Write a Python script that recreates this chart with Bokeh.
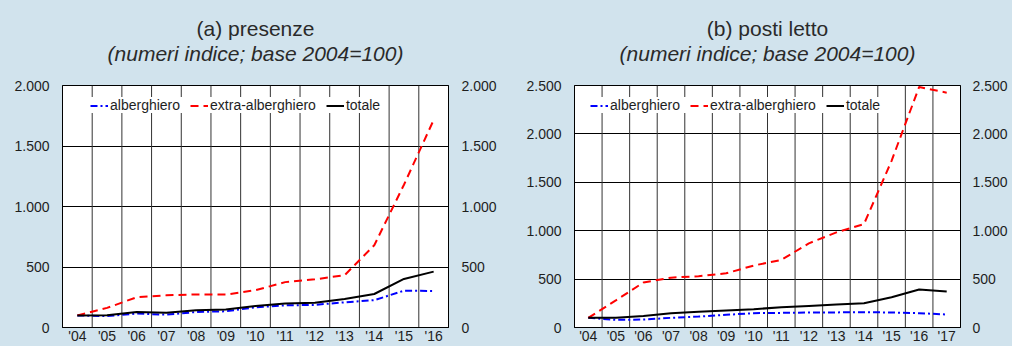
from bokeh.plotting import figure
from bokeh.models import (Range1d, FixedTicker, LinearAxis, Legend, LegendItem, Title, Span)
from bokeh.layouts import row
from bokeh.embed import file_html
from bokeh.resources import INLINE

# ---------------- data ----------------
years_a = [2004, 2005, 2006, 2007, 2008, 2009, 2010, 2011, 2012, 2013, 2014, 2015, 2016]
pres_alberghiero = [100, 94, 115, 106, 128, 134, 167, 183, 187, 208, 226, 304, 302]
pres_extra = [100, 162, 250, 266, 273, 272, 308, 375, 398, 432, 680, 1180, 1715]
pres_totale = [100, 101, 128, 121, 143, 149, 177, 199, 204, 236, 277, 401, 462]

years_b = [2004, 2005, 2006, 2007, 2008, 2009, 2010, 2011, 2012, 2013, 2014, 2015, 2016, 2017]
posti_alberghiero = [100, 79, 82, 100, 113, 131, 148, 151, 155, 156, 158, 155, 148, 134]
posti_extra = [100, 280, 465, 515, 530, 560, 640, 698, 869, 983, 1069, 1722, 2485, 2426]
posti_totale = [100, 100, 120, 148, 162, 175, 189, 209, 223, 237, 251, 313, 392, 371]

ticks_a = [0, 500, 1000, 1500, 2000]
tick_labels_a = ["0", "500", "1.000", "1.500", "2.000"]
ticks_b = [0, 500, 1000, 1500, 2000, 2500]
tick_labels_b = ["0", "500", "1.000", "1.500", "2.000", "2.500"]

series_names = ["alberghiero", "extra-alberghiero", "totale"]
subtitle = "(numeri indice; base 2004=100)"

# ---------------- style ----------------
BG = "#d1e3ed"
FONT = "Liberation Sans"
TXT = "#1e1e1e"
HEIGHT = 346
TOP_B = 85
BOTTOM_B = 18
FRAME_H = HEIGHT - TOP_B - BOTTOM_B


def year_label(y):
    return "'" + str(y)[2:]


def make_panel(title, years, s_alb, s_ext, s_tot, ticks, tick_labels,
               width, left_b, right_b, right_standoff, legend_x):
    p = figure(width=width, height=HEIGHT,
               output_backend="svg", toolbar_location=None,
               x_range=Range1d(years[0] - 0.5, years[-1] + 0.5),
               y_range=Range1d(ticks[0], ticks[-1]),
               min_border_left=left_b, min_border_right=right_b,
               min_border_top=TOP_B, min_border_bottom=BOTTOM_B)
    p.background_fill_color = "white"
    p.border_fill_color = BG
    p.outline_line_color = "black"
    p.outline_line_width = 1

    # titles, stacked upward from the plot: spacer, subtitle, main title
    spacer = Title(text=" ", text_font=FONT, text_font_size="1px", standoff=18)
    sub = Title(text=subtitle, align="center",
                text_font=FONT, text_font_size="21px", text_font_style="italic",
                text_color="#2a2a2a", standoff=0)
    main = Title(text=title, align="center", text_font=FONT, text_font_size="21px",
                 text_font_style="normal", text_color="#2a2a2a", standoff=0)
    p.add_layout(spacer, "above")
    p.add_layout(sub, "above")
    p.add_layout(main, "above")

    # x axis
    xa = p.xaxis[0]
    xa.ticker = FixedTicker(ticks=years)
    xa.major_label_overrides = {y: year_label(y) for y in years}
    xa.major_tick_out = 0
    xa.major_tick_in = 0
    xa.minor_tick_out = 0
    xa.minor_tick_in = 0
    xa.major_label_standoff = 0
    xa.axis_line_color = "black"
    xa.major_label_text_font = FONT
    xa.major_label_text_font_size = "14px"
    xa.major_label_text_color = TXT

    # y axes (left + right)
    ya = p.yaxis[0]
    ra = LinearAxis()
    p.add_layout(ra, "right")
    for ax, so in ((ya, 13), (ra, right_standoff)):
        ax.ticker = FixedTicker(ticks=ticks)
        ax.major_label_overrides = dict(zip(ticks, tick_labels))
        ax.major_tick_out = 0
        ax.major_tick_in = 0
        ax.minor_tick_out = 0
        ax.minor_tick_in = 0
        ax.major_label_standoff = so
        ax.axis_line_color = "black"
        ax.major_label_text_font = FONT
        ax.major_label_text_font_size = "14px"
        ax.major_label_text_color = TXT

    # grids: horizontal at value ticks, vertical between the years
    p.xgrid.visible = False
    p.ygrid.ticker = FixedTicker(ticks=ticks)
    p.ygrid.grid_line_color = "black"
    p.ygrid.grid_line_width = 1
    for y in years[:-1]:
        p.add_layout(Span(location=y + 0.5, dimension="height", line_color="#333333",
                          line_width=1, level="underlay"))

    r_alb = p.line(years, s_alb, line_color="#0000ff", line_width=2,
                   line_dash="7 3 2 3")
    r_ext = p.line(years, s_ext, line_color="#ff0000", line_width=2,
                   line_dash="8 5")
    r_tot = p.line(years, s_tot, line_color="black", line_width=2)

    legend = Legend(items=[LegendItem(label=series_names[0], renderers=[r_alb]),
                           LegendItem(label=series_names[1], renderers=[r_ext]),
                           LegendItem(label=series_names[2], renderers=[r_tot])],
                    orientation="horizontal",
                    location=(legend_x, FRAME_H - 6 - 23),
                    background_fill_color="white", background_fill_alpha=1.0,
                    border_line_color=None,
                    padding=4, margin=0, spacing=10,
                    glyph_width=18, glyph_height=15, label_height=15,
                    label_standoff=2,
                    label_text_font=FONT, label_text_font_size="14px",
                    label_text_color=TXT)
    p.add_layout(legend, "center")
    return p


p1 = make_panel("(a) presenze", years_a, pres_alberghiero, pres_extra, pres_totale,
                ticks_a, tick_labels_a, width=506, left_b=62, right_b=58,
                right_standoff=13, legend_x=28)
p2 = make_panel("(b) posti letto", years_b, posti_alberghiero, posti_extra, posti_totale,
                ticks_b, tick_labels_b, width=506, left_b=68, right_b=52,
                right_standoff=12, legend_x=16)

p = row(p1, p2)
p.styles = {"background-color": BG}

html = file_html(p, INLINE)
html = html.replace("</head>", "<style>html, body { background: %s; }</style></head>" % BG, 1)
open("out.html", "w").write(html)
